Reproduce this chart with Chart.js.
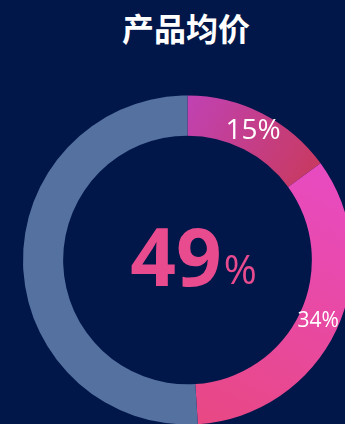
<!DOCTYPE html>
<html>
<head>
<meta charset="utf-8">
<script src="https://cdn.jsdelivr.net/npm/chart.js@4.4.1/dist/chart.umd.min.js"></script>
<style>
  html, body { margin: 0; padding: 0; background: #01174a; overflow: hidden; }
  body { width: 345px; height: 424px; position: relative; }
  #title {
    position: absolute; left: 0; top: 7px; width: 372px; text-align: center;
    color: #ffffff; font: bold 32px "Noto Sans CJK SC", sans-serif; line-height: 40px;
  }
  #wrap { position: absolute; left: 0; top: 0; width: 360px; height: 440px; }
</style>
</head>
<body>
<div id="title">产品均价</div>
<div id="wrap"><canvas id="donut"></canvas></div>
<script>
// segments, clockwise from the top
const categories = ['A', 'B', '其他'];
const values = [15, 34, 51];
const shownLabels = ['15%', '34%', ''];
const labelFontSizes = [28, 21, 0];

const centerValue = values[0] + values[1];

function segColor(ctx) {
    const chart = ctx.chart;
    const area = chart.chartArea;
    if (!area) return '#5571a0';
    const c = chart.ctx;
    if (ctx.dataIndex === 0) {
        const g = c.createLinearGradient(187, 95, 315, 170);
        g.addColorStop(0, '#c042b4');
        g.addColorStop(1, '#c83a62');
        return g;
    }
    if (ctx.dataIndex === 1) {
        const g = c.createLinearGradient(320, 170, 205, 420);
        g.addColorStop(0, '#e84bc0');
        g.addColorStop(1, '#e84884');
        return g;
    }
    return '#5571a0';
}

const arcLabels = {
    id: 'arcLabels',
    afterDatasetsDraw(chart) {
        const c = chart.ctx;
        const meta = chart.getDatasetMeta(0);
        c.save();
        c.fillStyle = '#ffffff';
        c.textAlign = 'center';
        c.textBaseline = 'middle';
        meta.data.forEach((arc, i) => {
            if (!shownLabels[i]) return;
            const p = arc.getCenterPoint();
            c.font = labelFontSizes[i] + 'px "Open Sans", sans-serif';
            c.fillText(shownLabels[i], p.x, p.y);
        });

        // centre figure
        const cx = (chart.chartArea.left + chart.chartArea.right) / 2;
        const cy = (chart.chartArea.top + chart.chartArea.bottom) / 2;
        c.fillStyle = '#e84b8e';
        c.textBaseline = 'alphabetic';
        c.textAlign = 'left';
        const big = 'bold 80px "Open Sans", sans-serif';
        const small = '40px "Open Sans", sans-serif';
        c.font = big;
        const w1 = c.measureText(String(centerValue)).width;
        c.font = small;
        const w2 = c.measureText('%').width;
        const x0 = cx + 6 - (w1 + w2 + 2) / 2;
        c.font = big;
        c.fillText(String(centerValue), x0, cy + 26);
        c.font = small;
        c.fillText('%', x0 + w1 + 2, cy + 24);
        c.restore();
    }
};

new Chart(document.getElementById('donut'), {
    type: 'doughnut',
    data: {
        labels: categories,
        datasets: [{
            data: values,
            backgroundColor: segColor,
            borderWidth: 0,
            hoverOffset: 0
        }]
    },
    options: {
        responsive: true,
        maintainAspectRatio: false,
        animation: false,
        cutout: '75.6%',
        layout: { padding: { left: 23, right: 8, top: 95, bottom: 15 } },
        plugins: {
            legend: { display: false },
            tooltip: { enabled: false }
        }
    },
    plugins: [arcLabels]
});
</script>
</body>
</html>
